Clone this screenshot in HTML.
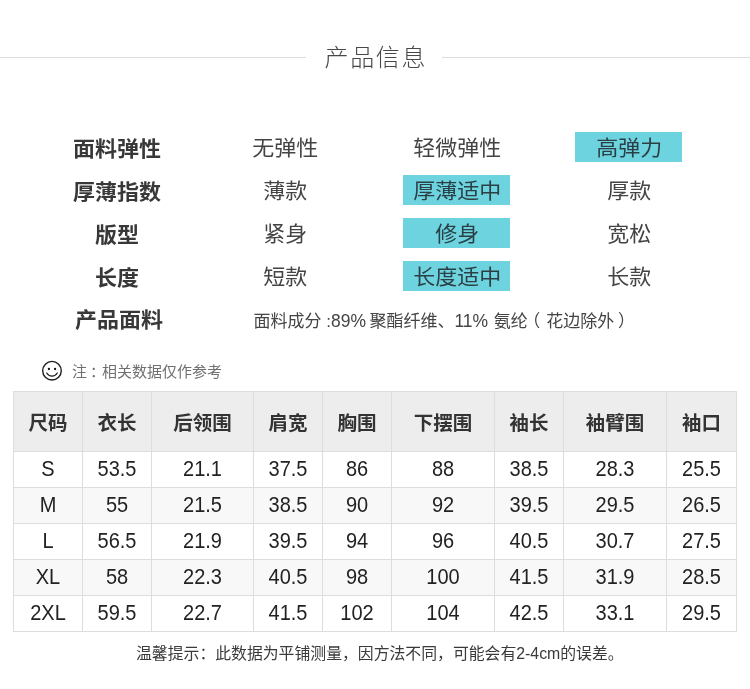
<!DOCTYPE html>
<html lang="zh-CN">
<head>
<meta charset="utf-8">
<title>产品信息</title>
<style>
html,body{margin:0;padding:0;background:#fff;}
body{width:750px;height:689px;position:relative;overflow:hidden;font-family:"Liberation Sans","Noto Sans CJK SC",sans-serif;color:#333;}
.abs{position:absolute;white-space:nowrap;}
.hl{position:absolute;height:1px;background:#dcdcdc;top:57px;}
.title{left:0;width:750px;top:41px;height:34px;line-height:34px;text-align:center;font-size:24px;font-weight:300;color:#484848;letter-spacing:1.6px;text-indent:1.6px;}
.lab{width:160px;left:37px;text-align:center;font-size:22px;font-weight:700;color:#383838;height:30px;line-height:33.4px;}
.opt{width:107px;box-sizing:border-box;padding-left:1.4px;text-align:center;font-size:22px;font-weight:400;color:#444;height:30px;line-height:32.5px;overflow:hidden;}
.sq{display:inline-block;transform:scaleY(0.955);transform-origin:50% 55%;}
.c1{left:231px;}
.c2{left:403px;}
.c3{left:575px;}
.on{background:#6dd3df;color:#2b4046;}
.r1{top:132px;}
.r2{top:175px;}
.r3{top:218px;}
.r4{top:261px;}
.r5{top:304px;}
.mat{left:253.6px;top:306.5px;height:30px;line-height:30px;font-size:17px;color:#444;}
.lt{display:inline-block;line-height:1;font-size:17.5px;transform:scaleY(1.09);transform-origin:0 100%;margin-right:-1.4px;}
.note{left:72px;top:356.5px;height:30px;line-height:30px;font-size:15px;color:#707070;font-weight:400;}
table{position:absolute;left:13px;top:391px;border-collapse:collapse;table-layout:fixed;width:724px;}
td,th{border:1px solid #ddd;text-align:center;padding:0;}
th{height:59px;background:#ededed;font-size:19.5px;font-weight:700;color:#333;}
td{height:35px;padding:0;font-size:20px;color:#222;}
.n{display:inline-block;transform:translateY(-0.2px) scaleY(1.08);}
tr.g td{background:#f8f8f8;}
.foot{left:136px;top:640px;transform:translateY(-0.6px);height:30px;line-height:30px;font-size:15.85px;color:#3a3a3a;}
</style>
</head>
<body>
<div class="hl" style="left:0;width:306px;"></div>
<div class="hl" style="left:442px;width:308px;"></div>
<div class="abs title">产品信息</div>

<div class="abs lab r1"><span class="sq">面料弹性</span></div>
<div class="abs opt c1 r1"><span class="sq">无弹性</span></div>
<div class="abs opt c2 r1"><span class="sq">轻微弹性</span></div>
<div class="abs opt c3 r1 on"><span class="sq">高弹力</span></div>

<div class="abs lab r2"><span class="sq">厚薄指数</span></div>
<div class="abs opt c1 r2"><span class="sq">薄款</span></div>
<div class="abs opt c2 r2 on"><span class="sq">厚薄适中</span></div>
<div class="abs opt c3 r2"><span class="sq">厚款</span></div>

<div class="abs lab r3"><span class="sq">版型</span></div>
<div class="abs opt c1 r3"><span class="sq">紧身</span></div>
<div class="abs opt c2 r3 on"><span class="sq">修身</span></div>
<div class="abs opt c3 r3"><span class="sq">宽松</span></div>

<div class="abs lab r4"><span class="sq">长度</span></div>
<div class="abs opt c1 r4"><span class="sq">短款</span></div>
<div class="abs opt c2 r4 on"><span class="sq">长度适中</span></div>
<div class="abs opt c3 r4"><span class="sq">长款</span></div>

<div class="abs lab" style="top:302.8px;left:39px;"><span class="sq">产品面料</span></div>
<div class="abs mat">面料成分 :<span class="lt">89%</span> 聚酯纤维、<span class="lt">11%</span> <span style="margin-left:2.3px">氨纶</span><span style="margin-left:-4.5px;margin-right:5.9px">（</span>花边除外<span style="margin-left:3.7px">）</span></div>

<svg class="abs" style="left:41px;top:360px;" width="22" height="22" viewBox="0 0 22 22">
  <circle cx="10.98" cy="10.72" r="9.3" fill="none" stroke="#1e1e1e" stroke-width="1.4"/>
  <circle cx="7.9" cy="9" r="1.15" fill="#111"/>
  <circle cx="14.07" cy="9" r="1.15" fill="#111"/>
  <path d="M5.74 13.06 A6.1 6.1 0 0 0 16.3 13.06" fill="none" stroke="#1e1e1e" stroke-width="1.25" stroke-linecap="round"/>
</svg>
<div class="abs note">注<span style="position:relative;left:3px">：</span>相关数据仅作参考</div>

<table>
<colgroup><col style="width:69px"><col style="width:69px"><col style="width:102px"><col style="width:69px"><col style="width:69px"><col style="width:103px"><col style="width:69px"><col style="width:103px"><col style="width:70px"></colgroup>
<tr><th>尺码</th><th>衣长</th><th>后领围</th><th>肩宽</th><th>胸围</th><th>下摆围</th><th>袖长</th><th>袖臂围</th><th>袖口</th></tr>
<tr><td><span class="n">S</span></td><td><span class="n">53.5</span></td><td><span class="n">21.1</span></td><td><span class="n">37.5</span></td><td><span class="n">86</span></td><td><span class="n">88</span></td><td><span class="n">38.5</span></td><td><span class="n">28.3</span></td><td><span class="n">25.5</span></td></tr>
<tr class="g"><td><span class="n">M</span></td><td><span class="n">55</span></td><td><span class="n">21.5</span></td><td><span class="n">38.5</span></td><td><span class="n">90</span></td><td><span class="n">92</span></td><td><span class="n">39.5</span></td><td><span class="n">29.5</span></td><td><span class="n">26.5</span></td></tr>
<tr><td><span class="n">L</span></td><td><span class="n">56.5</span></td><td><span class="n">21.9</span></td><td><span class="n">39.5</span></td><td><span class="n">94</span></td><td><span class="n">96</span></td><td><span class="n">40.5</span></td><td><span class="n">30.7</span></td><td><span class="n">27.5</span></td></tr>
<tr class="g"><td><span class="n">XL</span></td><td><span class="n">58</span></td><td><span class="n">22.3</span></td><td><span class="n">40.5</span></td><td><span class="n">98</span></td><td><span class="n">100</span></td><td><span class="n">41.5</span></td><td><span class="n">31.9</span></td><td><span class="n">28.5</span></td></tr>
<tr><td><span class="n">2XL</span></td><td><span class="n">59.5</span></td><td><span class="n">22.7</span></td><td><span class="n">41.5</span></td><td><span class="n">102</span></td><td><span class="n">104</span></td><td><span class="n">42.5</span></td><td><span class="n">33.1</span></td><td><span class="n">29.5</span></td></tr>
</table>

<div class="abs foot">温馨提示：此数据为平铺测量，因方法不同，可能会有2-4cm的误差。</div>
</body>
</html>
